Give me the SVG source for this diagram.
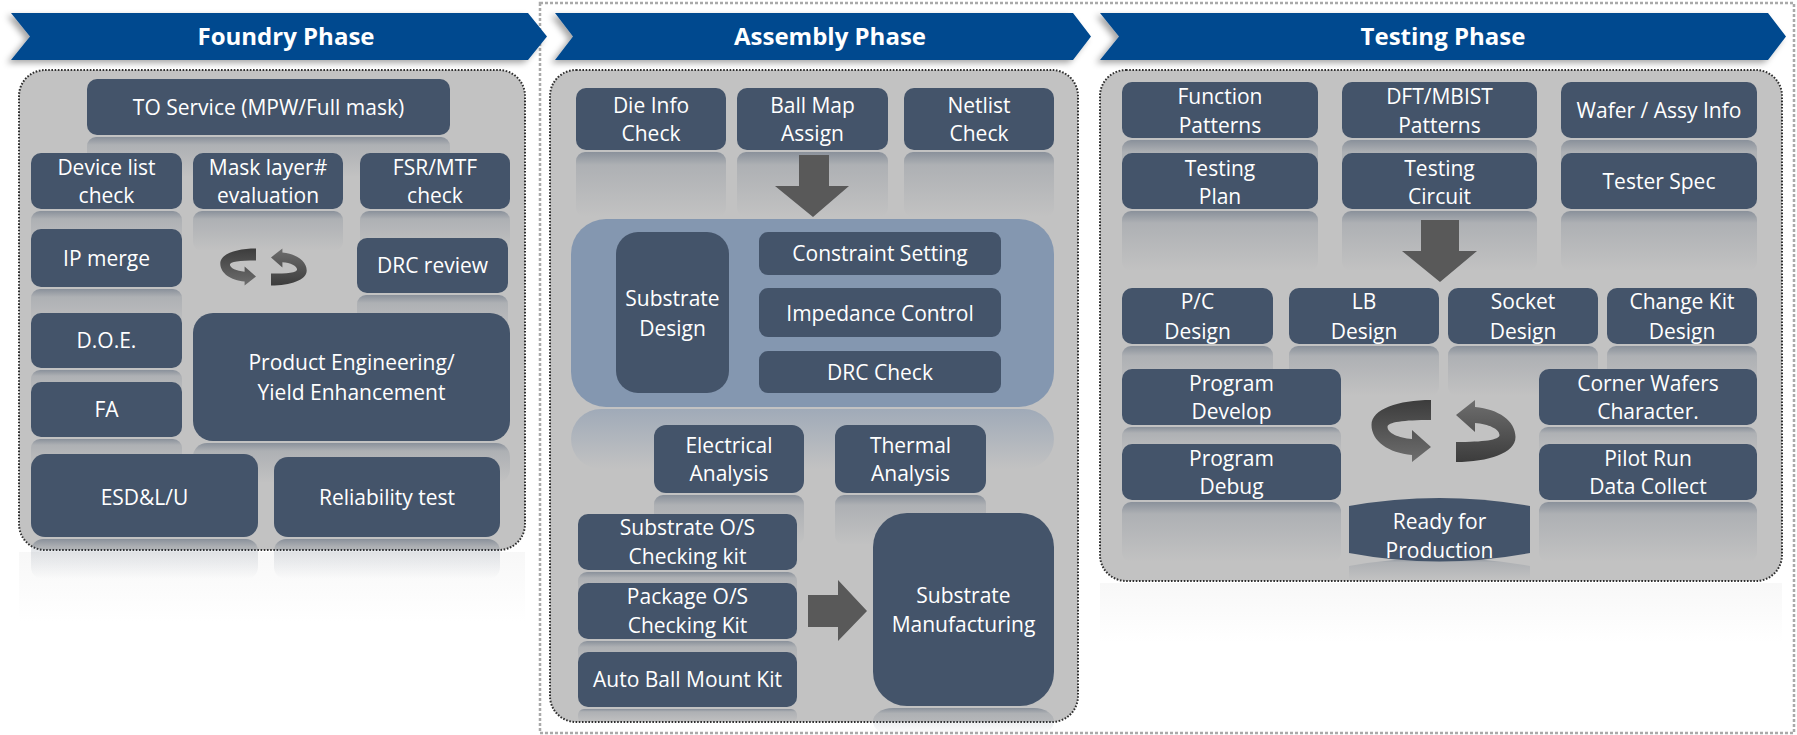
<svg xmlns="http://www.w3.org/2000/svg" width="1797" height="735" viewBox="0 0 1797 735">
<defs>
<style>
.box{fill:#44546a;}
.refl{fill:url(#rg);}
.cont{fill:#c2c2c2;stroke:#2e2e2e;stroke-width:2;stroke-dasharray:1.6 1.6;}
.t{font-family:"Open Sans","Liberation Sans",sans-serif;font-size:21px;fill:#ffffff;text-anchor:middle;}
.bt{font-family:"Open Sans","Liberation Sans",sans-serif;font-size:24px;font-weight:bold;fill:#ffffff;text-anchor:middle;}
.banner{fill:#004a8f;filter:url(#sh);}
.arr{fill:#595959;}
.rot{fill:url(#rotg);}
</style>
<linearGradient id="rg" x1="0" y1="0" x2="0" y2="1">
<stop offset="0" stop-color="#44546a" stop-opacity="0.45"/>
<stop offset="0.2" stop-color="#44546a" stop-opacity="0.16"/>
<stop offset="1" stop-color="#44546a" stop-opacity="0"/>
</linearGradient>
<linearGradient id="rgb" x1="0" y1="0" x2="0" y2="1">
<stop offset="0" stop-color="#8497b0" stop-opacity="0.55"/>
<stop offset="1" stop-color="#8497b0" stop-opacity="0"/>
</linearGradient>
<linearGradient id="rgc" x1="0" y1="0" x2="0" y2="1">
<stop offset="0" stop-color="#c2c2c2" stop-opacity="0.12"/>
<stop offset="1" stop-color="#c2c2c2" stop-opacity="0"/>
</linearGradient>
<linearGradient id="rotg" x1="0" y1="0" x2="0" y2="1">
<stop offset="0" stop-color="#3c3c3c"/>
<stop offset="1" stop-color="#6e6e6e"/>
</linearGradient>
<filter id="sh" x="-5%" y="-30%" width="110%" height="160%">
<feDropShadow dx="-4" dy="3" stdDeviation="3" flood-color="#000" flood-opacity="0.35"/>
</filter>
<path id="halfrot" d="M -12.5,-31 C -45,-31 -72,-22 -72,-6 C -72,10 -55,22 -31.5,24 L -31.5,31 L -12.5,16 L -31.5,-1 L -31.5,8 C -45,7 -56,2 -56,-4 C -56,-9 -40,-11 -12.5,-11 Z"/>
</defs>

<rect width="1797" height="735" fill="#ffffff"/>

<!-- outer dotted frame -->
<rect x="540" y="3" width="1254" height="730" fill="none" stroke="#a9a9a9" stroke-width="2.5" stroke-dasharray="3 2"/>

<!-- banners -->
<g id="banner-foundry">
<polygon class="banner" points="11,13 528,13 547,36.5 528,60 11,60 30,36.5"/>
<text class="bt" x="286" y="45">Foundry Phase</text>
</g>
<g id="banner-assembly">
<polygon class="banner" points="555,13 1073,13 1091,36.5 1073,60 555,60 573,36.5"/>
<text class="bt" x="830" y="45">Assembly Phase</text>
</g>
<g id="banner-testing">
<polygon class="banner" points="1100,13 1768,13 1786,36.5 1768,60 1100,60 1119,36.5"/>
<text class="bt" x="1443" y="45">Testing Phase</text>
</g>

<!-- container reflections -->
<rect x="19" y="552" width="506" height="70" fill="url(#rgc)"/>
<rect x="1100" y="583" width="682" height="60" fill="url(#rgc)"/>

<!-- containers -->
<rect id="foundry-container" class="cont" x="19" y="70" width="506" height="480" rx="26"/>
<rect id="assembly-container" class="cont" x="550" y="70" width="528" height="652" rx="26"/>
<rect id="testing-container" class="cont" x="1100" y="70" width="682" height="511" rx="26"/>

<!-- ===== Foundry ===== -->
<g id="f-to"><rect class="refl" x="87" y="137" width="363" height="40" rx="9"/><rect class="box" x="87" y="79" width="363" height="56" rx="10"/><text class="t" x="268.5" y="114.5">TO Service (MPW/Full mask)</text></g>
<g id="f-dev"><rect class="refl" x="31" y="211" width="151" height="40" rx="9"/><rect class="box" x="31" y="153" width="151" height="56" rx="10"/><text class="t" x="106.5" y="174.5">Device list</text><text class="t" x="106.5" y="202.5">check</text></g>
<g id="f-mask"><rect class="refl" x="193" y="211" width="150" height="40" rx="9"/><rect class="box" x="193" y="153" width="150" height="56" rx="10"/><text class="t" x="268" y="174.5">Mask layer#</text><text class="t" x="268" y="202.5">evaluation</text></g>
<g id="f-fsr"><rect class="refl" x="360" y="211" width="150" height="40" rx="9"/><rect class="box" x="360" y="153" width="150" height="56" rx="10"/><text class="t" x="435" y="174.5">FSR/MTF</text><text class="t" x="435" y="202.5">check</text></g>
<g id="f-ip"><rect class="refl" x="31" y="289" width="151" height="40" rx="9"/><rect class="box" x="31" y="229" width="151" height="58" rx="10"/><text class="t" x="106.5" y="265.5">IP merge</text></g>
<g id="f-drc"><rect class="refl" x="357" y="295" width="151" height="40" rx="9"/><rect class="box" x="357" y="238" width="151" height="55" rx="10"/><text class="t" x="432.5" y="273">DRC review</text></g>
<g id="f-doe"><rect class="refl" x="31" y="370" width="151" height="30" rx="9"/><rect class="box" x="31" y="313" width="151" height="55" rx="10"/><text class="t" x="106.5" y="348">D.O.E.</text></g>
<g id="f-fa"><rect class="refl" x="31" y="439" width="151" height="30" rx="9"/><rect class="box" x="31" y="382" width="151" height="55" rx="10"/><text class="t" x="106.5" y="417">FA</text></g>
<g id="f-pe"><rect class="refl" x="193" y="443" width="317" height="40" rx="14"/><rect class="box" x="193" y="313" width="317" height="128" rx="20"/><text class="t" x="351.5" y="369.5">Product Engineering/</text><text class="t" x="351.5" y="399.5">Yield Enhancement</text></g>
<g id="f-esd"><rect class="refl" x="31" y="539" width="227" height="40" rx="12"/><rect class="box" x="31" y="454" width="227" height="83" rx="14"/><text class="t" x="144.5" y="504.5">ESD&amp;L/U</text></g>
<g id="f-rel"><rect class="refl" x="274" y="539" width="226" height="40" rx="12"/><rect class="box" x="274" y="457" width="226" height="80" rx="14"/><text class="t" x="387" y="504.5">Reliability test</text></g>

<!-- ===== Assembly ===== -->
<g id="a-die"><rect class="refl" x="576" y="152" width="150" height="65" rx="9"/><rect class="box" x="576" y="88" width="150" height="62" rx="10"/><text class="t" x="651" y="112.5">Die Info</text><text class="t" x="651" y="140.5">Check</text></g>
<g id="a-ball"><rect class="refl" x="737" y="152" width="151" height="65" rx="9"/><rect class="box" x="737" y="88" width="151" height="62" rx="10"/><text class="t" x="812.5" y="112.5">Ball Map</text><text class="t" x="812.5" y="140.5">Assign</text></g>
<g id="a-net"><rect class="refl" x="904" y="152" width="150" height="65" rx="9"/><rect class="box" x="904" y="88" width="150" height="62" rx="10"/><text class="t" x="979" y="112.5">Netlist</text><text class="t" x="979" y="140.5">Check</text></g>

<g id="a-panel">
<rect x="571" y="409" width="483" height="60" rx="30" fill="url(#rgb)"/>
<rect x="571" y="219" width="483" height="188" rx="35" fill="#8497b0"/>
</g>
<g id="a-sub"><rect class="box" x="616" y="232" width="113" height="161" rx="22"/><text class="t" x="672.5" y="305.5">Substrate</text><text class="t" x="672.5" y="335.5">Design</text></g>
<g id="a-con"><rect class="box" x="759" y="232" width="242" height="43" rx="9"/><text class="t" x="880" y="261">Constraint Setting</text></g>
<g id="a-imp"><rect class="box" x="759" y="288" width="242" height="49" rx="9"/><text class="t" x="880" y="320.5">Impedance Control</text></g>
<g id="a-drc"><rect class="box" x="759" y="351" width="242" height="42" rx="9"/><text class="t" x="880" y="379.5">DRC Check</text></g>

<g id="a-ele"><rect class="refl" x="654" y="495" width="150" height="50" rx="9"/><rect class="box" x="654" y="425" width="150" height="68" rx="12"/><text class="t" x="729" y="453">Electrical</text><text class="t" x="729" y="480.5">Analysis</text></g>
<g id="a-the"><rect class="refl" x="835" y="495" width="151" height="50" rx="9"/><rect class="box" x="835" y="425" width="151" height="68" rx="12"/><text class="t" x="910.5" y="453">Thermal</text><text class="t" x="910.5" y="480.5">Analysis</text></g>
<g id="a-sos"><rect class="refl" x="578" y="572" width="219" height="30" rx="9"/><rect class="box" x="578" y="514" width="219" height="56" rx="10"/><text class="t" x="687.5" y="535">Substrate O/S</text><text class="t" x="687.5" y="563.5">Checking kit</text></g>
<g id="a-pos"><rect class="refl" x="578" y="641" width="219" height="30" rx="9"/><rect class="box" x="578" y="583" width="219" height="56" rx="10"/><text class="t" x="687.5" y="604">Package O/S</text><text class="t" x="687.5" y="632.5">Checking Kit</text></g>
<g id="a-abm"><rect class="refl" x="578" y="709" width="219" height="14" rx="6"/><rect class="box" x="578" y="652" width="219" height="55" rx="10"/><text class="t" x="687.5" y="687">Auto Ball Mount Kit</text></g>
<g id="a-sm"><rect class="refl" x="873" y="708" width="181" height="27" rx="20"/><rect class="box" x="873" y="513" width="181" height="193" rx="34"/><text class="t" x="963.5" y="602.5">Substrate</text><text class="t" x="963.5" y="631.5">Manufacturing</text></g>

<!-- ===== Testing ===== -->
<g id="t-fun"><rect class="refl" x="1122" y="140" width="196" height="60" rx="9"/><rect class="box" x="1122" y="82" width="196" height="56" rx="10"/><text class="t" x="1220" y="104">Function</text><text class="t" x="1220" y="132.5">Patterns</text></g>
<g id="t-dft"><rect class="refl" x="1342" y="140" width="195" height="60" rx="9"/><rect class="box" x="1342" y="82" width="195" height="56" rx="10"/><text class="t" x="1439.5" y="104">DFT/MBIST</text><text class="t" x="1439.5" y="132.5">Patterns</text></g>
<g id="t-waf"><rect class="refl" x="1561" y="140" width="196" height="60" rx="9"/><rect class="box" x="1561" y="82" width="196" height="56" rx="10"/><text class="t" x="1659" y="117.5">Wafer / Assy Info</text></g>
<g id="t-tpl"><rect class="refl" x="1122" y="211" width="196" height="60" rx="9"/><rect class="box" x="1122" y="153" width="196" height="56" rx="10"/><text class="t" x="1220" y="176">Testing</text><text class="t" x="1220" y="204">Plan</text></g>
<g id="t-tci"><rect class="refl" x="1342" y="211" width="195" height="60" rx="9"/><rect class="box" x="1342" y="153" width="195" height="56" rx="10"/><text class="t" x="1439.5" y="176">Testing</text><text class="t" x="1439.5" y="204">Circuit</text></g>
<g id="t-tsp"><rect class="refl" x="1561" y="211" width="196" height="60" rx="9"/><rect class="box" x="1561" y="153" width="196" height="56" rx="10"/><text class="t" x="1659" y="189">Tester Spec</text></g>

<g id="t-pc"><rect class="refl" x="1122" y="346" width="151" height="50" rx="9"/><rect class="box" x="1122" y="288" width="151" height="56" rx="10"/><text class="t" x="1197.5" y="309">P/C</text><text class="t" x="1197.5" y="339">Design</text></g>
<g id="t-lb"><rect class="refl" x="1289" y="346" width="150" height="50" rx="9"/><rect class="box" x="1289" y="288" width="150" height="56" rx="10"/><text class="t" x="1364" y="309">LB</text><text class="t" x="1364" y="339">Design</text></g>
<g id="t-so"><rect class="refl" x="1448" y="346" width="150" height="50" rx="9"/><rect class="box" x="1448" y="288" width="150" height="56" rx="10"/><text class="t" x="1523" y="309">Socket</text><text class="t" x="1523" y="339">Design</text></g>
<g id="t-ck"><rect class="refl" x="1607" y="346" width="150" height="50" rx="9"/><rect class="box" x="1607" y="288" width="150" height="56" rx="10"/><text class="t" x="1682" y="309">Change Kit</text><text class="t" x="1682" y="339">Design</text></g>

<g id="t-pdv"><rect class="refl" x="1122" y="427" width="219" height="30" rx="9"/><rect class="box" x="1122" y="369" width="219" height="56" rx="10"/><text class="t" x="1231.5" y="390.5">Program</text><text class="t" x="1231.5" y="419">Develop</text></g>
<g id="t-pdb"><rect class="refl" x="1122" y="502" width="219" height="60" rx="9"/><rect class="box" x="1122" y="444" width="219" height="56" rx="10"/><text class="t" x="1231.5" y="465.5">Program</text><text class="t" x="1231.5" y="494">Debug</text></g>
<g id="t-cw"><rect class="refl" x="1539" y="427" width="218" height="30" rx="9"/><rect class="box" x="1539" y="369" width="218" height="56" rx="10"/><text class="t" x="1648" y="390.5">Corner Wafers</text><text class="t" x="1648" y="419">Character.</text></g>
<g id="t-pr"><rect class="refl" x="1539" y="502" width="218" height="60" rx="9"/><rect class="box" x="1539" y="444" width="218" height="56" rx="10"/><text class="t" x="1648" y="465.5">Pilot Run</text><text class="t" x="1648" y="494">Data Collect</text></g>
<g id="t-rdy"><path class="refl" d="M 1349,566 Q 1439.5,550 1530,566 L 1530,580 L 1349,580 Z"/><path class="box" d="M 1349,506 Q 1439.5,490 1530,506 L 1530,553 Q 1439.5,570 1349,553 Z"/><text class="t" x="1439.5" y="529">Ready for</text><text class="t" x="1439.5" y="558">Production</text></g>

<!-- connectors / arrows -->
<g id="connectors">
<polygon class="arr" points="799,155 829,155 829,186 849,186 813,217 775,186 799,186"/>
<polygon class="arr" points="1421,220 1459,220 1459,251 1477,251 1440,282 1402,251 1421,251"/>
<polygon class="arr" points="808,595 838,595 838,580 867,611 838,641 838,627 808,627"/>
<g transform="translate(263.5,267) scale(0.6)"><use href="#halfrot" class="rot"/><use href="#halfrot" class="rot" transform="rotate(180)"/></g>
<g transform="translate(1443.5,431)"><use href="#halfrot" class="rot"/><use href="#halfrot" class="rot" transform="rotate(180)"/></g>
</g>
</svg>
